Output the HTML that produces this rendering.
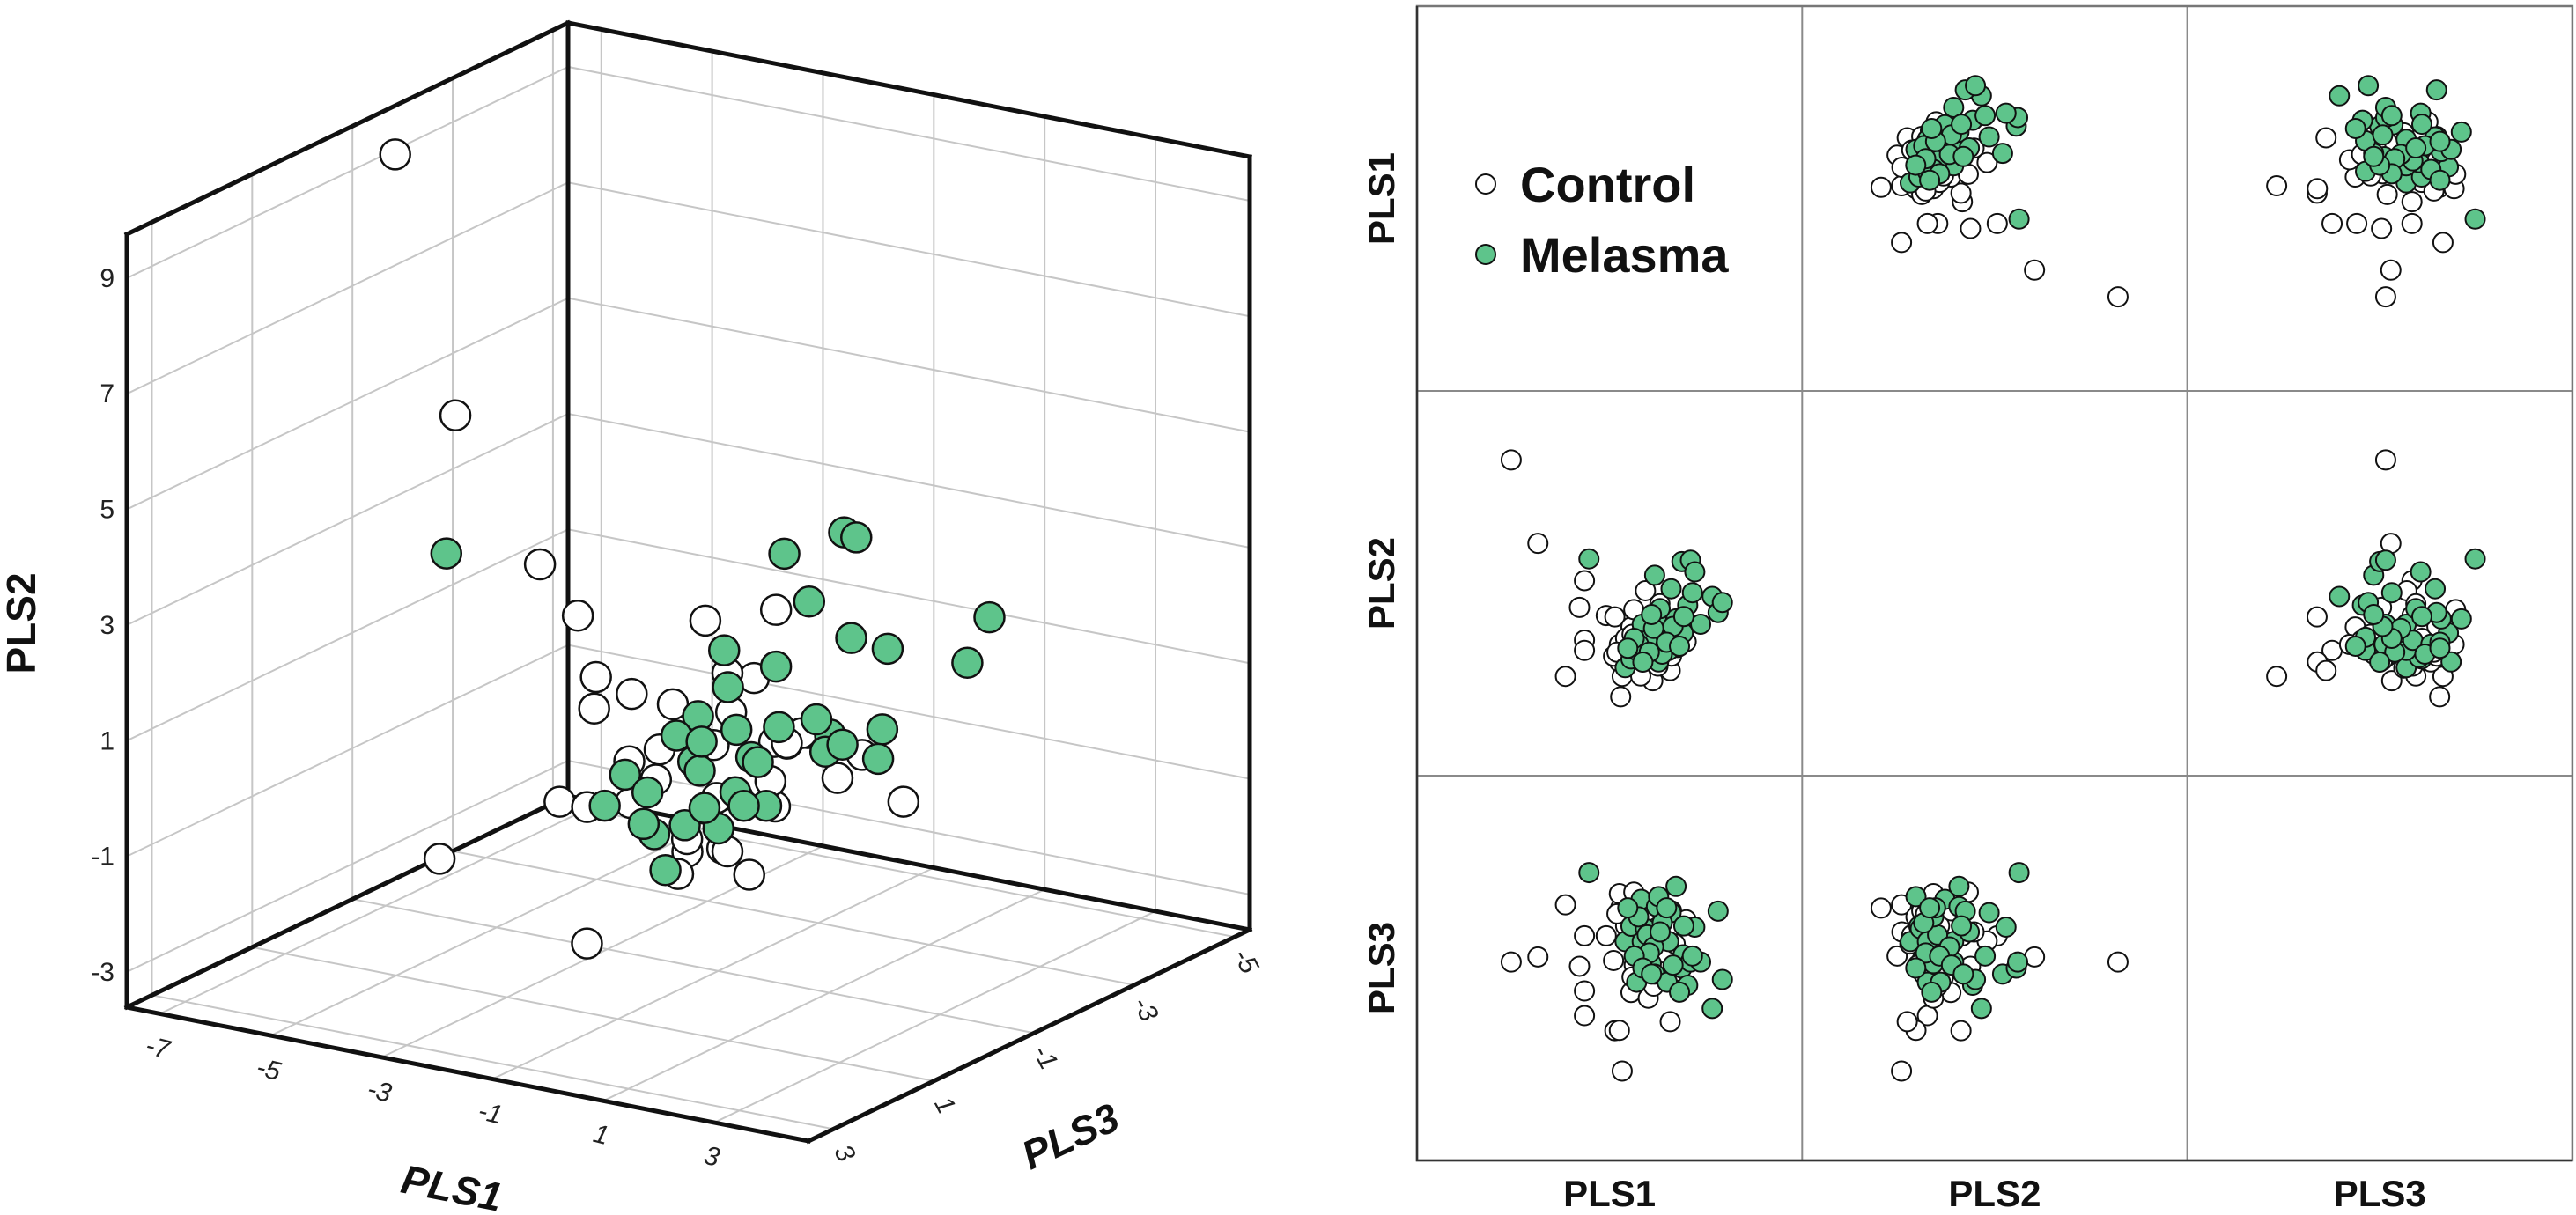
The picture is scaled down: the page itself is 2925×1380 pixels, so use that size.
<!DOCTYPE html>
<html><head><meta charset="utf-8"><style>
html,body{margin:0;padding:0;background:#fff;}
svg{display:block;font-family:"Liberation Sans",Arial,sans-serif;}
</style></head><body>
<svg id="chart" width="2925" height="1380" viewBox="0 0 2925 1380" xmlns="http://www.w3.org/2000/svg">
<g id="plot3d"></g>
<g id="matrix"></g>
</svg>
<script>
// ---- data ----
const ctlP1 = [-7.01,-5.77,-4.49,-3.61,-3.84,-3.61,-3.61,-2.60,-2.20,-1.93,-1.99,-1.86,-2.26,-1.99,-1.45,-1.32,-0.78,-0.65,-0.44,-0.38,-0.11,0.37,0.43,0.70,1.11,-1.5,-0.9,-0.6,-1.2,-0.1,-1.7,-0.7,0.1,-1.3,-0.4,-2.1,-1.0,0.6,-1.4,-0.2];
const ctlP2 = [9.30,5.09,-1.62,3.21,1.86,0.21,-0.31,1.45,1.38,-2.65,-0.89,-1.62,-0.60,-0.01,0.87,1.75,2.70,-0.01,-1.84,-0.89,2.04,-1.33,-0.60,-0.16,0.13,-0.3,0.4,-0.5,-1.2,-0.2,0.3,0.9,0.6,-0.8,0.2,-0.4,-1.6,0.8,0.5,-1.1];
const ctlP3 = [-1.20,-1.03,0.70,-0.33,-1.34,-2.16,-2.98,-0.33,-3.48,0.59,-3.47,-4.82,-1.15,1.07,-2.21,1.12,-0.50,-2.40,-1.00,0.30,-0.20,-3.18,0.50,-1.50,0.20,0.2,-0.8,-1.6,-0.6,-0.4,0.0,0.5,-0.9,-1.3,-2.0,0.4,-0.2,-0.6,-1.7,-0.3];
const melP1 = [-3.40,-1.72,-1.45,-1.19,-0.98,-0.93,-0.78,-0.51,-0.35,-0.27,-0.17,0.23,0.30,0.41,0.64,0.91,0.97,1.18,1.31,1.51,1.78,2.32,2.59,2.79,-0.7,-1.1,-0.4,0.0,-0.6,-1.3,0.5,-0.1,1.0,-0.9,0.2,1.4,-0.5,-1.6,0.8];
const melP2 = [4.31,-1.18,-0.74,-0.31,0.57,1.01,-0.67,-0.01,3.48,1.28,-0.89,0.35,-0.31,2.80,1.28,4.17,0.57,1.97,4.24,3.65,1.01,2.41,1.60,2.11,0.2,0.0,0.8,-0.5,-0.4,0.3,0.9,1.8,1.4,-0.9,0.1,2.6,1.5,-0.2,-0.1];
const melP3 = [1.77,-0.52,-0.01,-1.87,0.88,-0.52,-0.09,-1.25,-1.60,0.64,0.97,-1.87,-0.52,0.44,1.31,-1.40,-0.96,-1.97,-1.20,-0.04,-1.20,-2.74,0.49,-1.78,-0.3,0.3,-0.7,0.1,-0.9,-1.0,-1.3,-0.2,0.0,-1.4,0.6,-1.0,-1.6,0.6,-2.2];
const ticks1 = [-7,-5,-3,-1,1,3];
const ticks2 = [-3,-1,1,3,5,7,9];
const ticks3 = [3,1,-1,-3,-5];
const varNames = ["PLS1","PLS2","PLS3"];
const legendLabels = ["Control","Melasma"];

const NS="http://www.w3.org/2000/svg";
const GREEN="#5ec48b";
function mk(tag,attrs,parent){const e=document.createElementNS(NS,tag);for(const k in attrs)e.setAttribute(k,attrs[k]);parent.appendChild(e);return e;}

// ---- 3D axes ----
const r1=[-7.6,4.7], r2=[-3.61,9.76], r3=[-5.3,3.5];
const O={x:144,y:1144}, E1={x:774,y:152}, E3={x:501,y:-240}, E2={x:0,y:-878};
function P(p1,p2,p3){
  const a1=(p1-r1[0])/(r1[1]-r1[0]), a2=(p2-r2[0])/(r2[1]-r2[0]), a3=(r3[1]-p3)/(r3[1]-r3[0]);
  return {x:O.x+a1*E1.x+a3*E3.x+a2*E2.x, y:O.y+a1*E1.y+a3*E3.y+a2*E2.y};
}
const g3=document.getElementById('plot3d');
function line3(a,b,stroke,w,name){
  const l=mk('line',{x1:a.x,y1:a.y,x2:b.x,y2:b.y,stroke:stroke,'stroke-width':w,'stroke-linecap':'square'},g3);
  
  
}
const GC="#c6c6c6";
ticks2.forEach(v=>{
  line3(P(r1[0],v,r3[1]),P(r1[0],v,r3[0]),GC,2,'grid-line-left-pls2');
  line3(P(r1[0],v,r3[0]),P(r1[1],v,r3[0]),GC,2,'grid-line-back-pls2');
});
ticks3.forEach(v=>{
  line3(P(r1[0],r2[0],v),P(r1[0],r2[1],v),GC,2,'grid-line-left-pls3');
  line3(P(r1[0],r2[0],v),P(r1[1],r2[0],v),GC,2,'grid-line-floor-pls3');
});
ticks1.forEach(v=>{
  line3(P(v,r2[0],r3[0]),P(v,r2[1],r3[0]),GC,2,'grid-line-back-pls1');
  line3(P(v,r2[0],r3[1]),P(v,r2[0],r3[0]),GC,2,'grid-line-floor-pls1');
});
const BK="#111";
line3(P(r1[0],r2[0],r3[1]),P(r1[0],r2[1],r3[1]),BK,5,'box-edge');
line3(P(r1[0],r2[1],r3[1]),P(r1[0],r2[1],r3[0]),BK,5,'box-edge');
line3(P(r1[0],r2[0],r3[0]),P(r1[0],r2[1],r3[0]),BK,5,'box-edge');
line3(P(r1[0],r2[1],r3[0]),P(r1[1],r2[1],r3[0]),BK,5,'box-edge');
line3(P(r1[1],r2[0],r3[0]),P(r1[1],r2[1],r3[0]),BK,5,'box-edge');
line3(P(r1[0],r2[0],r3[1]),P(r1[1],r2[0],r3[1]),BK,5,'pls1-axis-line');
line3(P(r1[1],r2[0],r3[1]),P(r1[1],r2[0],r3[0]),BK,5,'pls3-axis-line');
line3(P(r1[0],r2[0],r3[0]),P(r1[0],r2[0],r3[1]),BK,5,'box-edge');
line3(P(r1[0],r2[0],r3[0]),P(r1[1],r2[0],r3[0]),BK,5,'box-edge');
ticks2.forEach(v=>{const p=P(r1[0],v,r3[1]);
  const t=mk('text',{x:130,y:p.y+10,'text-anchor':'end','font-size':30,fill:'#222'},g3);t.textContent=v;
  
  
});
ticks1.forEach(v=>{const p=P(v,r2[0],r3[1]);
  const t=mk('text',{x:0,y:0,'text-anchor':'middle','font-size':30,'font-style':'italic',fill:'#222',transform:`translate(${p.x-5},${p.y+48}) rotate(14)`},g3);t.textContent=v;
  
  
});
ticks3.forEach(v=>{const p=P(r1[1],r2[0],v);
  const t=mk('text',{x:0,y:0,'text-anchor':'middle','font-size':30,'font-style':'italic',fill:'#222',transform:`translate(${p.x+4},${p.y+32}) rotate(62)`},g3);t.textContent=v;
  
  
});
let t=mk('text',{x:0,y:0,'text-anchor':'middle','font-size':46,'font-weight':'bold',fill:'#111',transform:'translate(40,708) rotate(-90)'},g3);t.textContent='PLS2';


t=mk('text',{x:0,y:0,'text-anchor':'middle','font-size':46,'font-weight':'bold','font-style':'italic',fill:'#111',transform:'translate(510,1365) rotate(11)'},g3);t.textContent='PLS1';


t=mk('text',{x:0,y:0,'text-anchor':'middle','font-size':46,'font-weight':'bold','font-style':'italic',fill:'#111',transform:'translate(1222,1305) rotate(-25)'},g3);t.textContent='PLS3';


function pts3(a1,a2,a3,fill,name){
  for(let i=0;i<a1.length;i++){const p=P(a1[i],a2[i],a3[i]);
    const c=mk('circle',{cx:p.x,cy:p.y,r:17,fill:fill,stroke:'#111','stroke-width':2.5},g3);
    
    
  }
}
pts3(ctlP1,ctlP2,ctlP3,'#fff','control-point-3d');
pts3(melP1,melP2,melP3,GREEN,'melasma-point-3d');

// ---- scatterplot matrix ----
const gm=document.getElementById('matrix');
const mR=[[-8.6,3.7],[-3.61,9.76],[-5.8,3.0]];
const MX0=1609, MY0=7, CW=437.3, CH=437, MG=68, MS=301;
const ctl=[ctlP1,ctlP2,ctlP3], mel=[melP1,melP2,melP3];
function mxs(c,v){return MX0+c*CW+MG+(v-mR[c][0])/(mR[c][1]-mR[c][0])*MS;}
function mys(r,v){return MY0+r*CH+MG+(mR[r][1]-v)/(mR[r][1]-mR[r][0])*MS;}
for(let r=0;r<3;r++)for(let c=0;c<3;c++){
  if(r===c)continue;
  [[ctl,'#fff','control-point'],[mel,GREEN,'melasma-point']].forEach(([d,f,n])=>{
    for(let i=0;i<d[0].length;i++){
      const e=mk('circle',{cx:mxs(c,d[c][i]),cy:mys(r,d[r][i]),r:11,fill:f,stroke:'#111','stroke-width':2},gm);
      
      
    }
  });
}
for(let k=1;k<3;k++){
  let l=mk('line',{x1:MX0+k*CW,y1:MY0,x2:MX0+k*CW,y2:MY0+3*CH,stroke:'#8a8a8a','stroke-width':2},gm);
  
  
  l=mk('line',{x1:MX0,y1:MY0+k*CH,x2:MX0+3*CW,y2:MY0+k*CH,stroke:'#8a8a8a','stroke-width':2},gm);
  
  
}
let box=mk('rect',{x:MX0,y:MY0,width:3*CW,height:3*CH,fill:'none',stroke:'#777','stroke-width':2.5},gm);


let bl=mk('polyline',{points:`${MX0},${MY0} ${MX0},${MY0+3*CH} ${MX0+3*CW},${MY0+3*CH}`,fill:'none',stroke:'#333','stroke-width':2.5},gm);


varNames.forEach((n,i)=>{
  let tx=mk('text',{x:MX0+i*CW+CW/2,y:1370,'text-anchor':'middle','font-size':42,'font-weight':'bold',fill:'#111'},gm);tx.textContent=n;
  
  
  let ty=mk('text',{x:0,y:0,'text-anchor':'middle','font-size':42,'font-weight':'bold',fill:'#111',transform:`translate(1583,${MY0+i*CH+CH/2}) rotate(-90)`},gm);ty.textContent=n;
  
  
});
legendLabels.forEach((n,i)=>{
  const y=[209,289][i];
  const c=mk('circle',{cx:1687,cy:y,r:11,fill:i?GREEN:'#fff',stroke:'#111','stroke-width':2},gm);
  
  
  const tx=mk('text',{x:1726,y:y+20,'font-size':56,'font-weight':'bold',fill:'#111'},gm);tx.textContent=n;
  
  
});
</script>
</body></html>
